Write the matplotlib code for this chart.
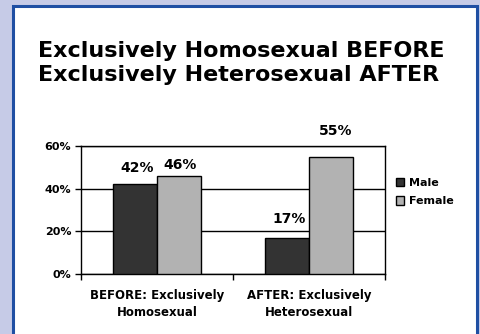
import numpy as np
import matplotlib.pyplot as plt
from matplotlib.patches import Rectangle

# chart data
categories = ['BEFORE: Exclusively\nHomosexual', 'AFTER: Exclusively\nHeterosexual']
male = [42, 17]
female = [46, 55]
series_names = ['Male', 'Female']
yticks = [0, 20, 40, 60]

fig = plt.figure(figsize=(4.8, 3.34), dpi=100)
fig.patch.set_facecolor('#C6CBE7')

# white slide panel with blue border
panel = Rectangle((12.5 / 480, -0.05), 464 / 480, 1.05 - 5.5 / 334,
                  transform=fig.transFigure, facecolor='white',
                  edgecolor='#1F4FA3', linewidth=2.2, zorder=-5)
fig.patches.append(panel)

fig.text(38 / 480, 1 - 41 / 334,
         'Exclusively Homosexual BEFORE\nExclusively Heterosexual AFTER',
         ha='left', va='top', fontsize=16, fontweight='bold', linespacing=1.22)

ax = fig.add_axes([81 / 480, 1 - 274 / 334, 304 / 480, 128 / 334])
ax.set_facecolor('none')

x = np.arange(len(categories))
w = 0.29
b1 = ax.bar(x - w / 2, male, w, color='#333333', edgecolor='black', linewidth=1.0,
            label=series_names[0], zorder=3)
b2 = ax.bar(x + w / 2, female, w, color='#B2B2B2', edgecolor='black', linewidth=1.0,
            label=series_names[1], zorder=3)

# value labels (offsets follow the original slide)
offsets_m = [7, 8.5]
offsets_f = [3, 13.5]
for rect, v, off in zip(b1, male, offsets_m):
    ax.annotate(f'{v}%', (rect.get_x() + rect.get_width() / 2, v),
                xytext=(1.5, off), textcoords='offset points', ha='center',
                va='bottom', fontsize=10, fontweight='bold', annotation_clip=False)
for rect, v, off in zip(b2, female, offsets_f):
    ax.annotate(f'{v}%', (rect.get_x() + rect.get_width() / 2, v),
                xytext=(1 if v < 50 else 3.5, off), textcoords='offset points',
                ha='center', va='bottom', fontsize=10, fontweight='bold',
                annotation_clip=False)

ax.set_ylim(0, 60)
ax.set_xlim(-0.5, len(categories) - 0.5)
ax.set_yticks(yticks)
ax.set_yticklabels([f'{t}%' for t in yticks], fontsize=8, fontweight='bold')
ax.yaxis.grid(True, color='black', linewidth=1.0, zorder=0)
ax.set_axisbelow(True)

# category boundaries as major ticks, labels on minor ticks
ax.set_xticks(np.arange(len(categories) + 1) - 0.5)
ax.set_xticklabels([])
ax.set_xticks(x, minor=True)
ax.set_xticklabels(categories, minor=True, fontsize=8.5, fontweight='bold',
                   linespacing=1.35)
ax.tick_params(axis='x', which='minor', length=0, pad=11)
ax.tick_params(axis='both', which='major', length=4, width=1.0, direction='out')
ax.tick_params(axis='y', pad=3)

for s in ax.spines.values():
    s.set_linewidth(1.0)
    s.set_color('black')

leg = fig.legend(handles=[b1, b2], loc='upper left',
                 bbox_to_anchor=(396 / 480, 1 - 178 / 334), frameon=False,
                 prop={'weight': 'bold', 'size': 8},
                 handlelength=0.75, handleheight=0.75, handletextpad=0.4,
                 labelspacing=0.75, borderpad=0, borderaxespad=0)

fig.savefig('out.png', dpi=100)
